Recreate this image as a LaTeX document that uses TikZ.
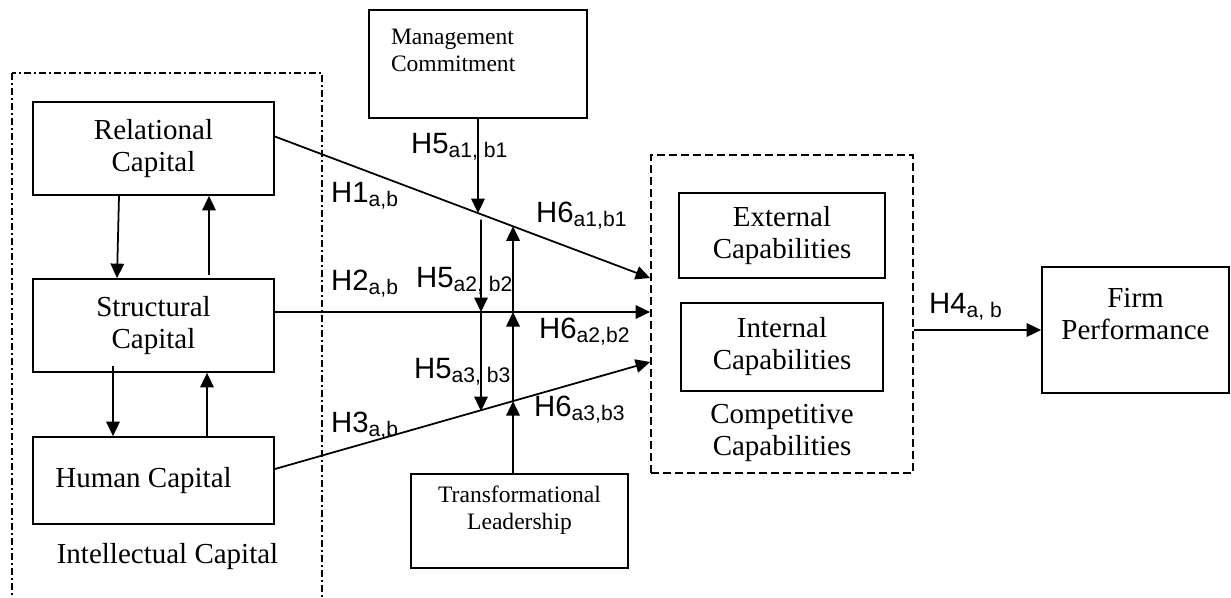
\documentclass[tikz,border=0pt]{standalone}
\usepackage{fontspec}
\setmainfont{Liberation Serif}
\setsansfont{Liberation Sans}
\usepackage{tikz}
\usetikzlibrary{arrows.meta, positioning}
\newcommand{\mainsize}{\fontsize{16.5}{18.2}\selectfont}
\newcommand{\boxsmall}{\fontsize{13.4}{15.4}\selectfont}
\newcommand{\hypsize}{\sffamily\fontsize{16.7}{19}\selectfont}
\newcommand{\hsub}[1]{\raisebox{-0.08cm}{\fontsize{12}{12}\selectfont #1}}
\tikzstyle{capbox} = [rectangle, draw=black, line width=1pt, minimum width=4.82cm, minimum height=1.86cm, align=center, font=\mainsize]
\tikzstyle{smallbox} = [rectangle, draw=black, line width=1pt, font=\boxsmall]
\tikzstyle{groupbox} = [rectangle, draw=black, line width=1pt, dash pattern=on 0.16cm off 0.08cm]
\tikzstyle{grouplabel} = [align=center, font=\mainsize]
\tikzstyle{hyp} = [anchor=base west, font=\hypsize]
\tikzstyle{hyparrow} = [-{Triangle[length=0.29cm, width=0.27cm]}, line width=1pt]

\begin{document}
\begin{tikzpicture}[node distance=3cm]
\useasboundingbox (0,0) rectangle (24.62,-11.94);
\node (rc) [capbox] at (3.07,-2.97) {Relational\\Capital};
\node (sc) [capbox, below of=rc, yshift=-0.54cm] {Structural\\Capital};
\node (hc) [capbox, minimum height=1.74cm, below of=sc, yshift=-0.1cm] {Human Capital\hspace{0.4cm}\mbox{}};
\node (icl) [grouplabel, below of=hc, xshift=0.28cm, yshift=1.47cm] {Intellectual Capital};
\draw [line width=1pt, dash pattern=on 0.13cm off 0.07cm on 0.03cm off 0.07cm] (0.24,-1.46) rectangle (6.44,-12.4);

\node (mc) [smallbox, minimum width=4.36cm, minimum height=2.16cm, text width=3.48cm, align=left] at (9.56,-1.28) {Management\\Commitment\\ \mbox{}};
\node (tl) [smallbox, minimum width=4.34cm, minimum height=1.88cm, align=center] at (10.39,-10.42) {Transformational\\Leadership\\ \mbox{}};

\node (comp) [groupbox, minimum width=5.24cm, minimum height=6.36cm] at (15.64,-6.28) {};
\node (ext) [capbox, minimum width=4.12cm, minimum height=1.70cm, above of=comp, yshift=-1.43cm] {External\\Capabilities};
\node (int) [capbox, minimum width=4.04cm, minimum height=1.76cm, below of=ext, yshift=0.77cm] {Internal\\Capabilities};
\node (ccl) [grouplabel, below of=int, yshift=1.29cm] {Competitive\\Capabilities};
\node (fp) [capbox, minimum width=3.74cm, minimum height=2.52cm, right of=comp, xshift=4.07cm, yshift=-0.32cm] {Firm\\Performance\\ \mbox{}};

\draw [hyparrow] ([xshift=-0.69cm]rc.south) -- ([xshift=-0.73cm]sc.north);
\draw [hyparrow] ([xshift=1.11cm, yshift=0.06cm]sc.north) -- ([xshift=1.11cm]rc.south);
\draw [hyparrow] ([xshift=-0.81cm, yshift=0.14cm]sc.south) -- ([xshift=-0.81cm]hc.north);
\draw [hyparrow] ([xshift=1.07cm]hc.north) -- ([xshift=1.07cm]sc.south);

\coordinate (h1s) at ([yshift=0.24cm]rc.east);
\coordinate (h2s) at ([yshift=0.27cm]sc.east);
\coordinate (h3s) at ([yshift=0.23cm]hc.east);
\coordinate (e1) at ([yshift=0.72cm]comp.west);
\coordinate (e2) at (comp.west |- h2s);
\coordinate (e3) at ([yshift=-0.96cm]comp.west);
\draw [hyparrow] (h1s) -- (e1);
\draw [hyparrow] (h2s) -- (e2);
\draw [hyparrow] (h3s) -- (e3);

\coordinate (tlt) at ([xshift=-0.13cm]tl.north);
\coordinate (tlb) at ([xshift=-0.13cm]tl.south);
\coordinate (k1) at (intersection of h1s--e1 and mc.north--mc.south);
\coordinate (k2) at (mc.south |- e2);
\coordinate (k3) at (intersection of h3s--e3 and mc.north--mc.south);
\coordinate (j1) at (intersection of h1s--e1 and tlt--tlb);
\coordinate (j2) at (tlt |- e2);
\coordinate (j3) at (intersection of h3s--e3 and tlt--tlb);
\draw [hyparrow] (mc.south) -- (k1);
\draw [hyparrow] ([xshift=0.06cm, yshift=-0.13cm]k1) -- ([xshift=0.06cm]k2);
\draw [hyparrow] ([xshift=0.06cm]k2) -- ([xshift=0.06cm]k3);
\draw [hyparrow] (tlt) -- (j3);
\draw [hyparrow] (j3) -- (j2);
\draw [hyparrow] (j2) -- (j1);

\draw [hyparrow] (comp.east |- fp.west) -- (fp.west);

\node (h1l) [hyp] at (6.5,-4.04) {H1\hsub{a,b}};
\node (h2l) [hyp] at (6.5,-5.8) {H2\hsub{a,b}};
\node (h3l) [hyp] at (6.5,-8.64) {H3\hsub{a,b}};
\node (h5a) [hyp] at (8.1,-3.06) {H5\hsub{a1, b1}};
\node (h5b) [hyp] at (8.2,-5.74) {H5\hsub{a2, b2}};
\node (h5c) [hyp] at (8.16,-7.56) {H5\hsub{a3, b3}};
\node (h6a) [hyp] at (10.6,-4.44) {H6\hsub{a1,b1}};
\node (h6b) [hyp] at (10.66,-6.76) {H6\hsub{a2,b2}};
\node (h6c) [hyp] at (10.56,-8.32) {H6\hsub{a3,b3}};
\node (h4l) [hyp] at (18.46,-6.26) {H4\hsub{a, b}};
\end{tikzpicture}
\end{document}
